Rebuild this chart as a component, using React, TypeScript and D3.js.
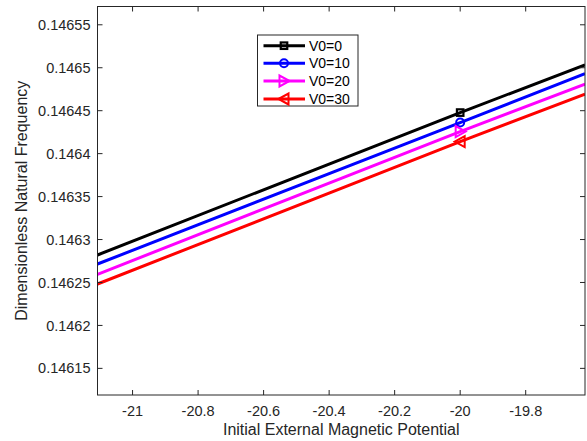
import React from "react";
import * as d3 from "d3";

const xValues = [-21.107, -20, -19.619];
const seriesNames = ["V0=0", "V0=10", "V0=20", "V0=30"];
const seriesColors = ["#000000", "#0000ff", "#ff00ff", "#ff0000"];
const seriesMarkers = ["square", "circle", "triRight", "triLeft"];
const v0 = [0.146282, 0.1464478, 0.1465034];
const v10 = [0.1462715, 0.1464362, 0.146493];
const v20 = [0.1462595, 0.1464257, 0.146481];
const v30 = [0.1462482, 0.146414, 0.1464693];
const markerIndex = 1;
const xTicks = [-21, -20.8, -20.6, -20.4, -20.2, -20, -19.8];
const yTicks = [0.14615, 0.1462, 0.14625, 0.1463, 0.14635, 0.1464, 0.14645, 0.1465, 0.14655];

const W = 587, H = 441;
const L = 97.5, R = 585, T = 6.5, B = 395;

function Marker({ type, x, y, color }: { type: string; x: number; y: number; color: string }) {
  if (type === "square") {
    return <rect x={x - 3.25} y={y - 3.25} width={6.5} height={6.5} fill="none" stroke={color} strokeWidth={2.2} />;
  }
  if (type === "circle") {
    return <circle cx={x} cy={y} r={4} fill="none" stroke={color} strokeWidth={2} />;
  }
  if (type === "triRight") {
    const p = `${x + 5.5},${y} ${x - 4.5},${y - 5.5} ${x - 4.5},${y + 5.5}`;
    return <polygon points={p} fill="none" stroke={color} strokeWidth={2} strokeLinejoin="miter" />;
  }
  const p = `${x - 5.5},${y} ${x + 4.5},${y - 5.5} ${x + 4.5},${y + 5.5}`;
  return <polygon points={p} fill="none" stroke={color} strokeWidth={2} strokeLinejoin="miter" />;
}

export default function App() {
  const x = d3.scaleLinear().domain([-21.107, -19.619]).range([L, R]);
  const y = d3.scaleLinear().domain([0.146119, 0.1465713]).range([B, T]);
  const series = [v0, v10, v20, v30];
  const line = d3
    .line<number>()
    .x((_, i) => x(xValues[i]))
    .y((d) => y(d));
  const font = "Arial, 'Liberation Sans', Helvetica, sans-serif";
  const tc = "#262626";
  const legX = 257.5, legY = 35, legW = 100.5, legH = 71;
  const rowYs = [45.7, 63.3, 81, 99];
  return (
    <svg width={W} height={H} style={{ position: "absolute", left: 0, top: 0 }} fontFamily={font}>
      <rect x={0} y={0} width={W} height={H} fill="#fff" />
      <defs>
        <clipPath id="plot">
          <rect x={L} y={T} width={R - L} height={B - T} />
        </clipPath>
      </defs>
      <g clipPath="url(#plot)">
        {series.map((s, k) => (
          <path key={k} d={line(s) || ""} fill="none" stroke={seriesColors[k]} strokeWidth={3} />
        ))}
        {series.map((s, k) => (
          <Marker key={k} type={seriesMarkers[k]} x={x(xValues[markerIndex])} y={y(s[markerIndex])} color={seriesColors[k]} />
        ))}
      </g>
      <rect x={L} y={T} width={R - L} height={B - T} fill="none" stroke={tc} strokeWidth={1} />
      {xTicks.map((t) => (
        <g key={t}>
          <line x1={x(t)} x2={x(t)} y1={B} y2={B - 5} stroke={tc} />
          <line x1={x(t)} x2={x(t)} y1={T} y2={T + 5} stroke={tc} />
          <text x={x(t)} y={B + 20.5} textAnchor="middle" fontSize={14.5} fill={tc}>
            {t}
          </text>
        </g>
      ))}
      {yTicks.map((t) => (
        <g key={t}>
          <line x1={L} x2={L + 5} y1={y(t)} y2={y(t)} stroke={tc} />
          <line x1={R} x2={R - 5} y1={y(t)} y2={y(t)} stroke={tc} />
          <text x={L - 7} y={y(t)} dy="0.35em" textAnchor="end" fontSize={14.5} fill={tc}>
            {t}
          </text>
        </g>
      ))}
      <text x={(L + R) / 2} y={435} textAnchor="middle" fontSize={16} fill={tc}>
        Initial External Magnetic Potential
      </text>
      <text transform={`translate(27,${(T + B) / 2}) rotate(-90)`} textAnchor="middle" fontSize={16} fill={tc}>
        Dimensionless Natural Frequency
      </text>
      <rect x={legX} y={legY} width={legW} height={legH} fill="#fff" stroke={tc} strokeWidth={1} />
      {seriesNames.map((n, k) => (
        <g key={n}>
          <line x1={263.5} x2={305} y1={rowYs[k]} y2={rowYs[k]} stroke={seriesColors[k]} strokeWidth={3} />
          <Marker type={seriesMarkers[k]} x={284} y={rowYs[k]} color={seriesColors[k]} />
          <text x={309} y={rowYs[k]} dy="0.35em" fontSize={14} fill="#000">
            {n}
          </text>
        </g>
      ))}
    </svg>
  );
}
